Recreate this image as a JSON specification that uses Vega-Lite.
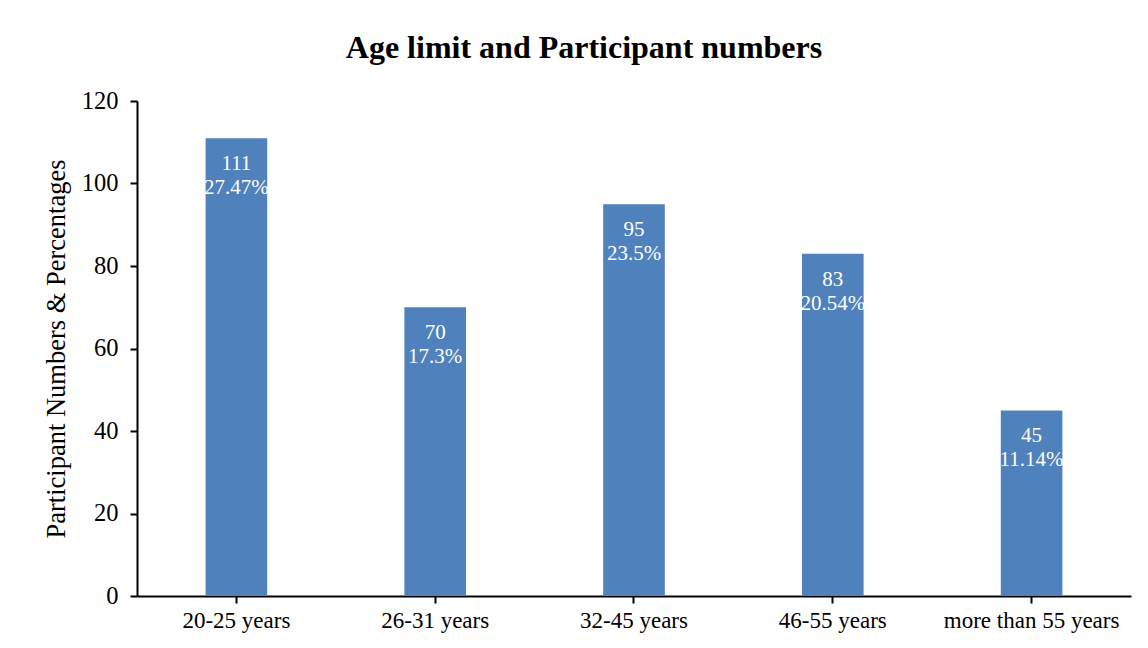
{
  "$schema": "https://vega.github.io/schema/vega-lite/v6.json",
  "autosize": {"type": "none"},
  "width": 994,
  "height": 495,
  "padding": {"left": 137, "top": 101, "right": 17, "bottom": 52},
  "background": "white",
  "title": {
    "text": "Age limit and Participant numbers",
    "font": "Liberation Serif",
    "fontSize": 32,
    "fontWeight": "bold",
    "color": "#000000",
    "anchor": "middle",
    "frame": "group",
    "dx": -50,
    "offset": 23
  },
  "config": {
    "view": {"stroke": null},
    "font": "Liberation Serif"
  },
  "data": {
    "values": [
      {"age": "20-25 years", "n": 111, "pct": "27.47%"},
      {"age": "26-31 years", "n": 70, "pct": "17.3%"},
      {"age": "32-45 years", "n": 95, "pct": "23.5%"},
      {"age": "46-55 years", "n": 83, "pct": "20.54%"},
      {"age": "more than 55 years", "n": 45, "pct": "11.14%"}
    ]
  },
  "encoding": {
    "x": {
      "field": "age",
      "type": "nominal",
      "sort": null,
      "scale": {"paddingInner": 0.69, "paddingOuter": 0.345},
      "axis": {
        "title": null,
        "labelAngle": 0,
        "labelFont": "Liberation Serif",
        "labelFontSize": 23,
        "labelColor": "#000000",
        "labelPadding": 6,
        "domainColor": "#000000",
        "domainWidth": 2,
        "tickColor": "#000000",
        "tickWidth": 2,
        "tickSize": 7,
        "grid": false
      }
    },
    "y": {
      "field": "n",
      "type": "quantitative",
      "scale": {"domain": [0, 120], "nice": false},
      "axis": {
        "title": "Participant Numbers & Percentages",
        "titleFont": "Liberation Serif",
        "titleFontSize": 26.5,
        "titleFontWeight": "normal",
        "titleColor": "#000000",
        "titlePadding": 11,
        "values": [0, 20, 40, 60, 80, 100, 120],
        "labelFont": "Liberation Serif",
        "labelFontSize": 24.5,
        "labelColor": "#000000",
        "labelPadding": 12,
        "domainColor": "#000000",
        "domainWidth": 2,
        "tickColor": "#000000",
        "tickWidth": 2,
        "tickSize": 7,
        "grid": false
      }
    }
  },
  "layer": [
    {"mark": {"type": "bar", "color": "#4F81BD"}},
    {
      "mark": {"type": "text", "color": "white", "font": "Liberation Serif", "fontSize": 21, "baseline": "top", "dy": 15, "lineHeight": 24},
      "encoding": {
        "text": {"field": "label"}
      },
      "transform": [{"calculate": "[toString(datum.n), datum.pct]", "as": "label"}]
    }
  ]
}
